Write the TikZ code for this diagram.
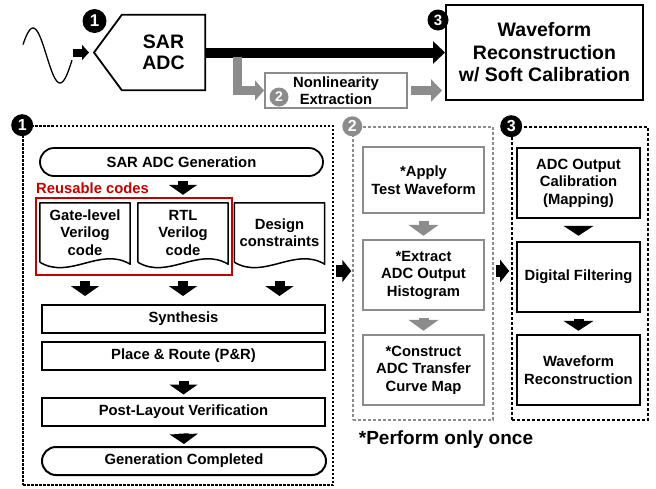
\documentclass[tikz,border=0pt]{standalone}
\usepackage{fontspec}
\setmainfont{Liberation Sans}
\usetikzlibrary{arrows.meta,calc,positioning}
\definecolor{midgrey}{RGB}{140,140,140}
\definecolor{reusered}{RGB}{192,0,0}
% outline of a document symbol round a node
\newcommand{\docoutline}[1]{%
  \draw[line width=1.5pt,line join=round] (#1.south west) -- (#1.north west) -- (#1.north east)
    -- ($(#1.south east)+(0,2)$) .. controls +(-30,-18) and +(30,18) .. (#1.south west);}

\begin{document}
\begin{tikzpicture}[x=1pt,y=-1pt,>=Latex,
  every node/.style={font=\bfseries\fontsize{14.8}{17.5}\selectfont,align=center},
  big/.style={font=\bfseries\fontsize{19.5}{22.5}\selectfont},
  badge/.style={circle,fill=black,text=white,inner sep=0pt,minimum size=22,font=\bfseries\fontsize{16}{16}\selectfont},
  stage/.style={draw,line width=2pt,minimum width=283,minimum height=28},
  doc/.style={inner sep=0pt,minimum width=90,minimum height=59},
  gbox/.style={draw=midgrey,line width=2.5pt,minimum width=121},
  kbox/.style={draw,line width=2.5pt,minimum width=123,minimum height=70},
  p1box/.style={draw,line width=1.6pt,dash pattern=on 2.5pt off 1.5pt},
  p2box/.style={draw=midgrey,line width=1.4pt,dash pattern=on 3pt off 2pt},
  p3box/.style={draw,line width=1.6pt,dash pattern=on 3pt off 2pt},
  darr/.style={line width=10pt,-{Triangle[width=28pt,length=10pt]}},
  gdarr/.style={midgrey,line width=10pt,-{Triangle[width=30pt,length=11pt]}},
  harr/.style={line width=12pt,-{Triangle[width=22pt,length=9pt]}},
  garr/.style={midgrey,line width=9pt,-{Triangle[width=22pt,length=11pt]}}]
\useasboundingbox (0,0) rectangle (656,488);

% input signal and SAR ADC
\draw[line width=1.3pt,domain=23:72,samples=50,smooth] plot (\x,{55.5-27.5*cos((\x-33)/54*360)});
\coordinate (sigend) at (73,52.5);
\node[big,font=\bfseries\fontsize{19.5}{21}\selectfont,minimum width=83,minimum height=75] (sar) at (163.5,52.5) {SAR\\ADC};
\coordinate (sartip) at (94,52.5);
\draw[line width=1.8pt] (sartip) -- (sar.north west) -- (sar.north east) -- (sar.south east) -- (sar.south west) -- cycle;
\draw[line width=8pt,-{Triangle[width=15pt,length=7pt]},shorten >=5] (sigend) -- (sartip);
\node[badge,minimum size=24,font=\bfseries\fontsize{17}{17}\selectfont] (b1top) at (94.5,21) {1};

% waveform reconstruction
\node[big,draw,line width=2pt,minimum width=197,minimum height=95] (wave) at (544.5,52.5) {Waveform\\Reconstruction\\w/ Soft Calibration};
\node[badge,minimum size=21,font=\bfseries\fontsize{15}{15}\selectfont] (b3top) at (438,20) {3};
\draw[line width=10pt,-{Triangle[width=22pt,length=12pt]}] (sar.east) -- (wave.west);

% nonlinearity extraction branch
\node[draw=midgrey,line width=2pt,minimum width=142,minimum height=35] (nl) at (336,90.5) {Nonlinearity\\Extraction};
\node[badge,fill=midgrey,minimum size=19,font=\bfseries\fontsize{14}{14}\selectfont] (b2top) at (279,97) {2};
\coordinate (tap) at (237,57);
\draw[garr,-{Triangle[width=20pt,length=9pt]}] (tap) |- (nl.west);
\draw[garr,shorten <=3,shorten >=3] (nl.east) -- (wave.west |- nl.east);

% dashed panels
\node[p1box,minimum width=310,minimum height=359] (p1) at (178,305.5) {};
\node[p2box,minimum width=140,minimum height=293] (p2) at (423,273.5) {};
\node[p3box,minimum width=136,minimum height=293] (p3) at (580,273.5) {};
\node[badge] (b1) at (p1.north west) {1};
\node[badge,fill=midgrey,minimum size=20] (b2) at (p2.north west) {2};
\node[badge] (b3) at (p3.north west) {3};
\coordinate (lvl) at (0,271);
\draw[harr,shorten <=2,shorten >=1] (p1.east |- lvl) -- (p2.west |- lvl);
\draw[harr,shorten <=2,shorten >=2] (p2.east |- lvl) -- (p3.west |- lvl);

% panel 1: generation flow
\node[draw,line width=1.8pt,rounded corners=14,minimum width=283,minimum height=28] (gen) at (181.5,162) {SAR ADC Generation};
\node[doc] (gate) at (85,232.5) {Gate-level\\Verilog\\code};
\node[doc] (rtl) at (183,232.5) {RTL\\Verilog\\code};
\node[doc] (dsn) at (279.5,232.5) {Design\\constraints};
\docoutline{gate}
\docoutline{rtl}
\docoutline{dsn}
\draw[reusered,line width=1.5pt] ($(gate.north west)+(-4,-5)$) rectangle ($(rtl.south east)+(4,13)$);
\node[anchor=west,inner sep=0pt,text=reusered] (reuse) at (36,188) {Reusable codes};
\node[stage] (syn) at (183.5,319) {Synthesis};
\node[stage] (pnr) at (183.5,356) {Place \& Route (P\&R)};
\node[stage] (plv) at (183.5,411.5) {Post-Layout Verification};
\node[stage,rounded corners=14,minimum width=284] (done) at (184,461) {Generation Completed};
\draw[darr,shorten <=4,shorten >=8] (gen.south -| rtl.north) -- (rtl.north);
\foreach \d in {gate,rtl,dsn}
  \draw[darr,shorten <=19,shorten >=8] (\d.south) -- (\d.south |- syn.north);
\draw[darr,shorten <=10,shorten >=2] (pnr.south) -- (plv.north);
\draw[darr,shorten <=7,shorten >=2] (plv.south) -- (done.north);

% panel 2: calibration steps
\node[gbox,minimum height=66] (apply) at (423.5,180) {*Apply\\Test Waveform};
\node[gbox,minimum height=70] (extract) at (423.5,275) {*Extract\\ADC Output\\Histogram};
\node[gbox,minimum height=70] (curve) at (423.5,370) {*Construct\\ADC Transfer\\Curve Map};
\draw[gdarr,shorten <=7,shorten >=3] (apply.south) -- (extract.north);
\draw[gdarr,shorten <=7,shorten >=3] (extract.south) -- (curve.north);
\node[font=\bfseries\fontsize{19}{22}\selectfont] (once) at (446,440) {*Perform only once};

% panel 3: reconstruction steps
\node[kbox] (cal) at (578.5,183) {ADC Output\\Calibration\\(Mapping)};
\node[kbox] (filt) at (578.5,277) {Digital Filtering};
\node[kbox] (recon) at (578.5,370) {Waveform\\Reconstruction};
\draw[darr,-{Triangle[width=30pt,length=10pt]},shorten <=7,shorten >=5] (cal.south) -- (filt.north);
\draw[darr,-{Triangle[width=30pt,length=10pt]},shorten <=6,shorten >=3] (filt.south) -- (recon.north);
\end{tikzpicture}
\end{document}
